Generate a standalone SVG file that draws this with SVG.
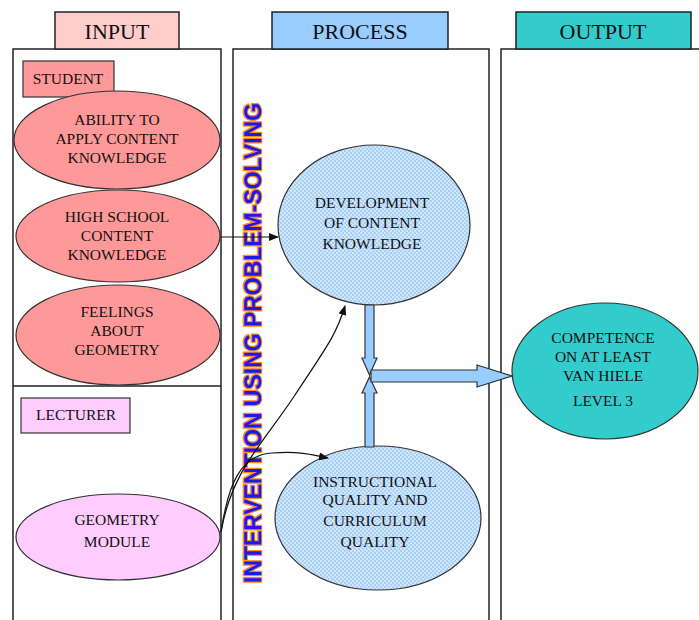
<svg xmlns="http://www.w3.org/2000/svg" width="699" height="620" viewBox="0 0 699 620">
<style>
.panel{fill:#fefefe;stroke:#222;stroke-width:1.5}
.tab{stroke:#222;stroke-width:1.5}
.tabt{font-family:"Liberation Serif",serif;font-size:22px;fill:#111;text-anchor:middle}
.t{font-family:"Liberation Serif",serif;font-size:15.5px;fill:#111;text-anchor:middle}
.ell{stroke:#333;stroke-width:1.2}
.conn{fill:none;stroke:#111;stroke-width:1.2}
.blk{fill:#99ccff;stroke:#333;stroke-width:1.2;stroke-linejoin:miter}
.vert{font-family:"Liberation Sans",Arial,sans-serif;font-weight:bold;font-size:23px;fill:#1a1aee;stroke:#ff8a1a;stroke-width:2.5;paint-order:stroke;stroke-linejoin:round}
</style>
<defs>
<pattern id="dots" width="4" height="4" patternUnits="userSpaceOnUse">
<rect width="4" height="4" fill="#a9d0f6"/>
<circle cx="1" cy="1" r="0.9" fill="#e4f1fd"/>
<circle cx="3" cy="3" r="0.9" fill="#e4f1fd"/>
</pattern>
<marker id="ah" markerWidth="10" markerHeight="8" refX="9" refY="4" orient="auto" markerUnits="userSpaceOnUse">
<path d="M0,0 L10,4 L0,8 Z" fill="#111"/>
</marker>
</defs>
<rect width="699" height="620" fill="#fff"/>
<g id="panels">
<rect class="panel" x="13" y="49" width="208" height="580"/>
<line x1="13" y1="386" x2="221" y2="386" stroke="#222" stroke-width="1.5"/>
<rect class="panel" x="233" y="49" width="256" height="580"/>
<rect class="panel" x="501" y="49" width="210" height="580"/>
</g>
<g id="tab-input"><rect class="tab" x="55" y="12" width="124" height="37" fill="#ffcccc"/><text class="tabt" x="117" y="39">INPUT</text></g>
<g id="tab-process"><rect class="tab" x="272" y="12" width="176" height="37" fill="#99ccff"/><text class="tabt" x="360" y="39">PROCESS</text></g>
<g id="tab-output"><rect class="tab" x="516" y="12" width="175" height="37" fill="#33cccc"/><text class="tabt" x="603" y="39">OUTPUT</text></g>
<g id="student"><rect x="23" y="61" width="91" height="36" fill="#ff9999" stroke="#333" stroke-width="1.2"/><text class="t" x="68" y="84">STUDENT</text></g>
<g id="ability"><ellipse class="ell" cx="117" cy="140" rx="103" ry="49" fill="#ff9999"/>
<text class="t" x="117" y="125">ABILITY TO</text><text class="t" x="117" y="144">APPLY CONTENT</text><text class="t" x="117" y="163">KNOWLEDGE</text></g>
<g id="highschool"><ellipse class="ell" cx="118" cy="236" rx="102" ry="46" fill="#ff9999"/>
<text class="t" x="117" y="222">HIGH SCHOOL</text><text class="t" x="117" y="241">CONTENT</text><text class="t" x="117" y="260">KNOWLEDGE</text></g>
<g id="feelings"><ellipse class="ell" cx="118" cy="335" rx="102" ry="50" fill="#ff9999"/>
<text class="t" x="117" y="317">FEELINGS</text><text class="t" x="117" y="336">ABOUT</text><text class="t" x="117" y="355">GEOMETRY</text></g>
<g id="lecturer"><rect x="21" y="398" width="109" height="35" fill="#ffccff" stroke="#333" stroke-width="1.2"/><text class="t" x="76" y="420">LECTURER</text></g>
<g id="module"><ellipse class="ell" cx="118" cy="537" rx="102" ry="43" fill="#ffccff"/>
<text class="t" x="117" y="525">GEOMETRY</text><text class="t" x="117" y="547">MODULE</text></g>
<g id="intervention"><text class="vert" transform="translate(261,583) rotate(-90)" x="0" y="0" textLength="480" lengthAdjust="spacingAndGlyphs">INTERVENTION USING PROBLEM-SOLVING</text></g>
<g id="development"><ellipse class="ell" cx="374" cy="225" rx="96" ry="80" fill="url(#dots)"/>
<text class="t" x="372" y="208">DEVELOPMENT</text><text class="t" x="372" y="228">OF CONTENT</text><text class="t" x="372" y="249">KNOWLEDGE</text></g>
<g id="instructional"><ellipse class="ell" cx="378" cy="518" rx="103" ry="72" fill="url(#dots)"/>
<text class="t" x="375" y="487">INSTRUCTIONAL</text><text class="t" x="375" y="505">QUALITY AND</text><text class="t" x="375" y="526">CURRICULUM</text><text class="t" x="375" y="547">QUALITY</text></g>
<g id="competence"><ellipse class="ell" cx="605" cy="371" rx="93" ry="68" fill="#33cccc"/>
<text class="t" x="603" y="343">COMPETENCE</text><text class="t" x="603" y="362">ON AT LEAST</text><text class="t" x="603" y="381">VAN HIELE</text><text class="t" x="603" y="406">LEVEL 3</text></g>
<g id="connectors">
<line class="conn" x1="220" y1="237" x2="278" y2="237" marker-end="url(#ah)"/>
<path class="conn" d="M221,532 C232,470 262,445 295,395 S336,335 345,306" marker-end="url(#ah)"/>
<path class="conn" d="M221,532 C228,485 240,455 272,453 S312,455 328,458" marker-end="url(#ah)"/>
<path class="blk" d="M365,305 L374,305 L374,358 L377,358 L369.5,375 L362,358 L365,358 Z"/>
<path class="blk" d="M365,447 L374,447 L374,393 L377,393 L369.5,377 L362,393 L365,393 Z"/>
<path class="blk" d="M371,370 L477,370 L477,365 L512,376 L477,387 L477,382 L371,382 Z"/>
</g>
</svg>
